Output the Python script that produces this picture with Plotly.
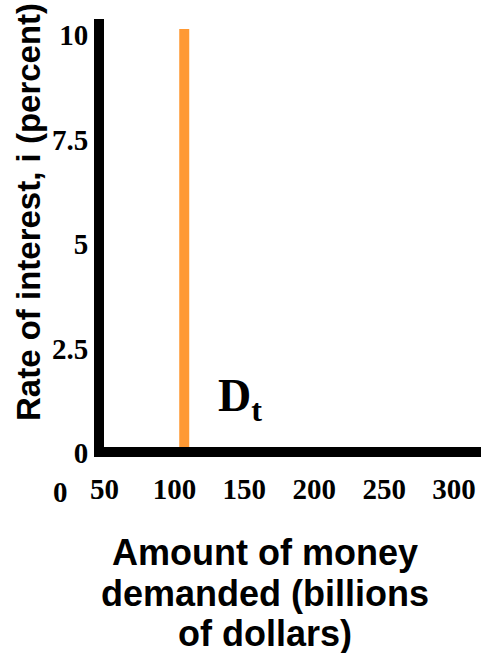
import plotly.graph_objects as go

# Data
demand_quantity = [107, 107]      # billions of dollars (vertical money demand)
demand_rate = [0, 10]             # percent
x_tick_vals = [50, 100, 150, 200, 250, 300]
x_tick_text = ["50", "100", "150", "200", "250", "300"]
y_tick_vals = [0, 2.5, 5, 7.5, 10]
y_tick_text = ["0", "2.5", "5", "7.5", "10"]
curve_label = "D<sub>t</sub>"
x_title_lines = ["Amount of money", "demanded (billions", "of dollars)"]
y_title = "Rate of interest, i (percent)"

W, H = 481, 653
ML, MR, MT, MB = 104, 0, 19, 206
PW = W - ML - MR
PH = H - MT - MB


def paper_x(px):
    return (px - ML) / PW


def paper_y(py):
    return (H - MB - py) / PH


tick_font = dict(family="Liberation Serif", size=29, color="black")
title_font_x = dict(family="Liberation Sans", size=36, color="black")
title_font_y = dict(family="Liberation Sans", size=33, color="black")

fig = go.Figure()
fig.add_trace(go.Scatter(
    x=demand_quantity, y=demand_rate, mode="lines",
    line=dict(color="#ff9933", width=10), showlegend=False, hoverinfo="skip",
))

fig.update_layout(
    width=W, height=H,
    margin=dict(l=ML, r=MR, t=MT, b=MB),
    paper_bgcolor="white", plot_bgcolor="white",
    showlegend=False,
)
fig.update_xaxes(
    range=[49.6, 319.3], showgrid=False, zeroline=False,
    showline=True, linewidth=10, linecolor="black",
    tickvals=x_tick_vals, ticktext=["<b>%s</b>" % t for t in x_tick_text],
    tickfont=tick_font, ticks="", ticklabelstandoff=7,
)
fig.update_yaxes(
    range=[0, 10.24], showgrid=False, zeroline=False,
    showline=True, linewidth=10, linecolor="black",
    tickvals=y_tick_vals, ticktext=["<b>%s</b>" % t for t in y_tick_text],
    tickfont=tick_font, ticks="", ticklabelstandoff=0, ticklabelshift=6,
)

annotations = []
# stray "0" label of the x axis
annotations.append(dict(
    x=paper_x(60), y=paper_y(492), xref="paper", yref="paper", text="<b>0</b>",
    showarrow=False, font=tick_font, xanchor="center", yanchor="middle",
))
# curve label
annotations.append(dict(
    x=129.7, y=1.15, xref="x", yref="y", text="<b>%s</b>" % curve_label, showarrow=False,
    font=dict(family="Liberation Serif", size=46, color="black"),
    xanchor="left", yanchor="middle",
))
# x title, three lines
line_y = [552, 593, 633]
for txt, py in zip(x_title_lines, line_y):
    annotations.append(dict(
        x=paper_x(265), y=paper_y(py), xref="paper", yref="paper", text="<b>%s</b>" % txt,
        showarrow=False, font=title_font_x, xanchor="center", yanchor="middle",
    ))
# y title
annotations.append(dict(
    x=paper_x(28), y=paper_y(212), xref="paper", yref="paper", text="<b>%s</b>" % y_title,
    showarrow=False, font=title_font_y, textangle=-90, xanchor="center", yanchor="middle",
))
fig.update_layout(annotations=annotations)

fig.write_html(
    "out.html",
    config={"displayModeBar": False},
    post_script="document.body.style.margin='0';document.body.style.overflow='hidden';",
)
